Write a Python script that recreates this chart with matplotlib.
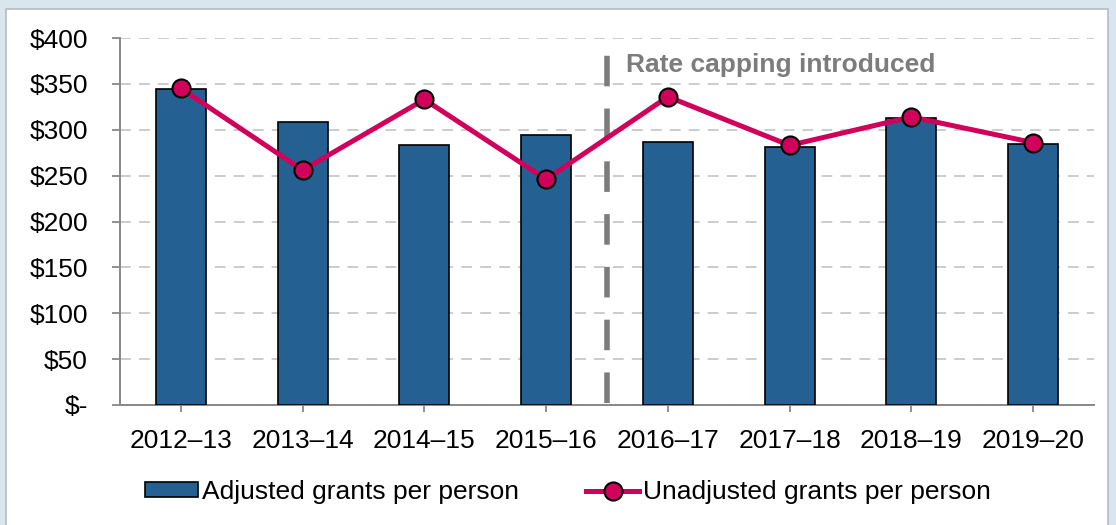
import matplotlib.pyplot as plt
from matplotlib.patches import Rectangle
from matplotlib.lines import Line2D
import numpy as np

plt.rcParams['font.family'] = ['Liberation Sans', 'DejaVu Sans']

# Data
years = ['2012–13', '2013–14', '2014–15', '2015–16', '2016–17', '2017–18', '2018–19', '2019–20']
adjusted = [344, 308, 283, 294, 287, 281, 313, 284]
unadjusted = [345, 256, 333, 246, 336, 283, 314, 286]
yticks = [0, 50, 100, 150, 200, 250, 300, 350, 400]
ytick_labels = ['$-', '$50', '$100', '$150', '$200', '$250', '$300', '$350', '$400']

bar_color = '#246192'
line_color = '#d1005a'
grey = '#7c7c7c'
fs = 19

fig = plt.figure(figsize=(11.16, 5.25), dpi=100)
fig.patch.set_facecolor('#dae6ee')
# white panel
fig.patches.append(Rectangle((6 / 1116, -0.01), 1102 / 1116, 1 - 9 / 525 + 0.01,
                             transform=fig.transFigure, facecolor='white',
                             edgecolor='#b4bcc4', linewidth=1.2, zorder=-5))

ax = fig.add_axes([120 / 1116, 1 - 405 / 525, 974 / 1116, 367 / 525])
ax.set_zorder(2)
ax.set_facecolor('none')
x = np.arange(len(years))

ax.bar(x, adjusted, width=0.41, color=bar_color, edgecolor='black', linewidth=1.2, zorder=3)
ax.plot(x, unadjusted, color=line_color, linewidth=3.6, marker='o', markersize=13,
        markerfacecolor=line_color, markeredgecolor='black', markeredgewidth=1.5, zorder=4)

ax.set_xlim(-0.5, len(years) - 0.5)
ax.set_ylim(0, 400)
ax.set_yticks(yticks)
ax.set_yticklabels(ytick_labels)
ax.set_xticks(x)
ax.set_xticklabels(years)
ax.tick_params(axis='both', labelsize=fs, colors='#888888', labelcolor='black', length=5, width=1.3)
ax.tick_params(axis='x', pad=12)
ax.tick_params(axis='y', length=6, pad=17)

ax.yaxis.grid(True, color='#c8c8c8', linestyle=(0, (6, 4.5)), linewidth=1.3, zorder=1)
for s in ['top', 'right']:
    ax.spines[s].set_visible(False)
for s in ['left', 'bottom']:
    ax.spines[s].set_color('#888888')
    ax.spines[s].set_linewidth(1.4)

# Rate capping marker
ax.axvline(3.5, ymin=0.005, ymax=0.995, color=grey, linewidth=4, linestyle=(0, (5.5, 4)), zorder=2)
ax.text(3.655, 363, 'Rate capping introduced', fontsize=fs, fontweight='bold', color=grey,
        va='baseline', ha='left')

handles = [Rectangle((0, 0), 1, 1, facecolor=bar_color, edgecolor='black', linewidth=1.2),
           Line2D([], [], color=line_color, linewidth=3.6, marker='o', markersize=13,
                  markerfacecolor=line_color, markeredgecolor='black', markeredgewidth=1.5)]
fig.legend(handles, ['Adjusted grants per person', 'Unadjusted grants per person'],
           loc='center', bbox_to_anchor=(568 / 1116, 1 - 492 / 525), ncol=2, frameon=False,
           fontsize=fs, handlelength=2.0, handleheight=0.5, handletextpad=0.15, columnspacing=2.55)

fig.savefig('out.png', dpi=100, facecolor=fig.get_facecolor())
